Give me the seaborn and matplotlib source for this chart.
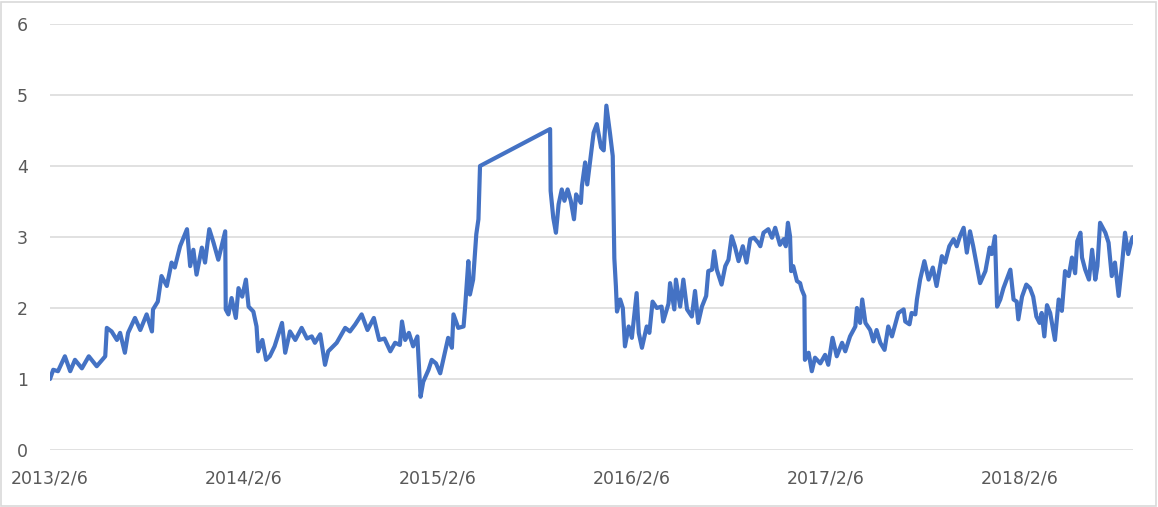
import numpy as np
import pandas as pd
import seaborn as sns
import matplotlib.pyplot as plt
from matplotlib.patches import Rectangle

start = pd.Timestamp('2013-02-06')
# days since 2013/2/6
days = [0, 6, 15, 28, 38, 47, 60, 73, 88, 104, 107, 116, 126, 132, 141, 147, 160, 170, 182, 192,
        194, 203, 210, 220, 229, 235, 245, 258, 264, 270, 276, 286, 292, 300, 308, 317, 330, 331, 336, 342,
        350, 355, 362, 369, 374, 383, 389, 392, 400, 407, 414, 423, 437, 443, 452, 462, 474, 484, 493, 499,
        509, 518, 524, 540, 556, 565, 575, 587, 598, 610, 620, 630, 641, 650, 659, 663, 669, 676, 684, 692,
        698, 703, 713, 719, 727, 735, 750, 757, 760, 769, 779, 782, 785, 788, 791, 797, 803, 807, 810,
        942, 943, 948, 953, 958, 964, 969, 975, 981, 987, 991, 1000, 1002, 1008, 1012, 1019, 1024, 1030, 1038,
        1043, 1048, 1055, 1060, 1063, 1066, 1068, 1074, 1079, 1083, 1090, 1096, 1105, 1109, 1115, 1124, 1129,
        1135, 1143, 1152, 1155, 1165, 1168, 1176, 1179, 1187, 1193, 1200, 1209, 1215, 1221, 1228, 1236, 1240,
        1247, 1251, 1256, 1265, 1272, 1278, 1284, 1290, 1297, 1305, 1312, 1319, 1326, 1334, 1338, 1344, 1353,
        1360, 1366, 1375, 1382, 1386, 1390, 1394, 1396, 1400, 1407, 1413, 1416, 1421, 1422, 1429, 1435, 1441,
        1451, 1460, 1466, 1474, 1482, 1492, 1498, 1507, 1517, 1520, 1526, 1530, 1536, 1545, 1551, 1557, 1564,
        1572, 1579, 1586, 1598, 1608, 1611, 1619, 1623, 1630, 1633, 1639, 1647, 1655, 1663, 1670, 1680, 1686,
        1694, 1702, 1708, 1714, 1721, 1727, 1733, 1739, 1746, 1752, 1762, 1770, 1774, 1780, 1784, 1790, 1796,
        1802, 1809, 1815, 1821, 1824, 1831, 1839, 1846, 1852, 1858, 1864, 1868, 1873, 1878, 1884, 1893, 1900,
        1906, 1912, 1919, 1925, 1931, 1935, 1941, 1944, 1950, 1957, 1963, 1969, 1973, 1978, 1988, 1994, 2000,
        2006, 2013, 2019, 2025, 2031, 2038, 2040]
values = [1.00, 1.13, 1.11, 1.32, 1.11, 1.27, 1.15, 1.32, 1.18, 1.32, 1.72, 1.67, 1.55, 1.65, 1.37, 1.65, 1.86, 1.69, 1.91, 1.67,
          1.98, 2.09, 2.45, 2.31, 2.64, 2.57, 2.87, 3.11, 2.59, 2.82, 2.47, 2.85, 2.64, 3.11, 2.92, 2.68, 3.08, 1.98, 1.91, 2.14,
          1.86, 2.28, 2.16, 2.40, 2.02, 1.95, 1.74, 1.39, 1.55, 1.27, 1.32, 1.46, 1.79, 1.37, 1.67, 1.55, 1.72, 1.57, 1.60, 1.51,
          1.63, 1.20, 1.39, 1.51, 1.72, 1.67, 1.77, 1.91, 1.69, 1.86, 1.55, 1.57, 1.39, 1.51, 1.48, 1.81, 1.55, 1.65, 1.46, 1.60,
          0.75, 0.96, 1.13, 1.27, 1.22, 1.08, 1.58, 1.44, 1.91, 1.72, 1.74, 2.02, 2.33, 2.66, 2.19, 2.40, 3.04, 3.25, 4.00,
          4.52, 3.65, 3.27, 3.06, 3.46, 3.67, 3.51, 3.67, 3.51, 3.25, 3.60, 3.48, 3.72, 4.05, 3.74, 4.17, 4.47, 4.59, 4.26,
          4.22, 4.85, 4.45, 4.14, 2.70, 2.30, 1.95, 2.12, 2.00, 1.46, 1.74, 1.58, 2.21, 1.65, 1.44, 1.74, 1.65,
          2.09, 2.00, 2.02, 1.81, 2.06, 2.35, 1.98, 2.40, 2.02, 2.40, 1.98, 1.88, 2.24, 1.79, 2.02, 2.17, 2.52,
          2.54, 2.80, 2.54, 2.33, 2.59, 2.68, 3.01, 2.87, 2.66, 2.87, 2.64, 2.97, 2.99, 2.92, 2.87, 3.06, 3.11,
          2.99, 3.13, 2.89, 2.97, 2.87, 3.20, 3.01, 2.52, 2.59, 2.38, 2.35, 2.26, 2.17, 1.27, 1.37, 1.11, 1.30,
          1.22, 1.34, 1.20, 1.58, 1.32, 1.51, 1.39, 1.60, 1.74, 2.00, 1.79, 2.12, 1.79, 1.69, 1.53, 1.69, 1.51,
          1.41, 1.74, 1.60, 1.93, 1.98, 1.81, 1.77, 1.93, 1.91, 2.12, 2.40, 2.66, 2.40, 2.57, 2.31, 2.73, 2.64,
          2.87, 2.97, 2.87, 3.01, 3.13, 2.78, 3.08, 2.87, 2.59, 2.35, 2.52, 2.85, 2.76, 3.01, 2.02, 2.12, 2.28,
          2.40, 2.54, 2.12, 2.09, 1.84, 2.16, 2.33, 2.28, 2.16, 1.88, 1.79, 1.93, 1.60, 2.04, 1.93, 1.55, 2.12,
          1.96, 2.52, 2.45, 2.71, 2.49, 2.94, 3.06, 2.71, 2.54, 2.40, 2.82, 2.40, 2.59, 3.20, 3.06, 2.92, 2.45,
          2.64, 2.17, 2.59, 3.06, 2.76, 2.97, 3.00]
tick_labels = ['2013/2/6', '2014/2/6', '2015/2/6', '2016/2/6', '2017/2/6', '2018/2/6']

df = pd.DataFrame({'date': start + pd.to_timedelta(days, unit='D'), 'value': values})

sns.set_style('white')
plt.rcParams['font.family'] = ['DejaVu Sans']
fig = plt.figure(figsize=(11.58, 5.07), dpi=100)
ax = fig.add_axes([0.0432, 0.1124, 0.9352, 0.8403])

sns.lineplot(data=df, x='date', y='value', ax=ax, color='#4472C4', linewidth=3.0)

ax.set_ylim(0, 6)
ax.set_yticks(range(7))
ax.set_xlim(df['date'].iloc[0], df['date'].iloc[-1])
ax.set_xticks(pd.to_datetime(tick_labels, format='%Y/%m/%d'))
ax.set_xticklabels(tick_labels)
ax.grid(axis='y', color='#D9D9D9', linewidth=1.1)
ax.set_axisbelow(True)
for s in ax.spines.values():
    s.set_visible(False)
ax.tick_params(axis='both', length=0, labelsize=12.5, labelcolor='#595959')
ax.tick_params(axis='y', pad=16)
ax.tick_params(axis='x', pad=14)
ax.set_xlabel('')
ax.set_ylabel('')

fig.patches.append(Rectangle((0.001, 0.002), 0.997, 0.995, transform=fig.transFigure,
                             fill=False, edgecolor='#D9D9D9', linewidth=1.2))
fig.savefig('out.png', dpi=100)
